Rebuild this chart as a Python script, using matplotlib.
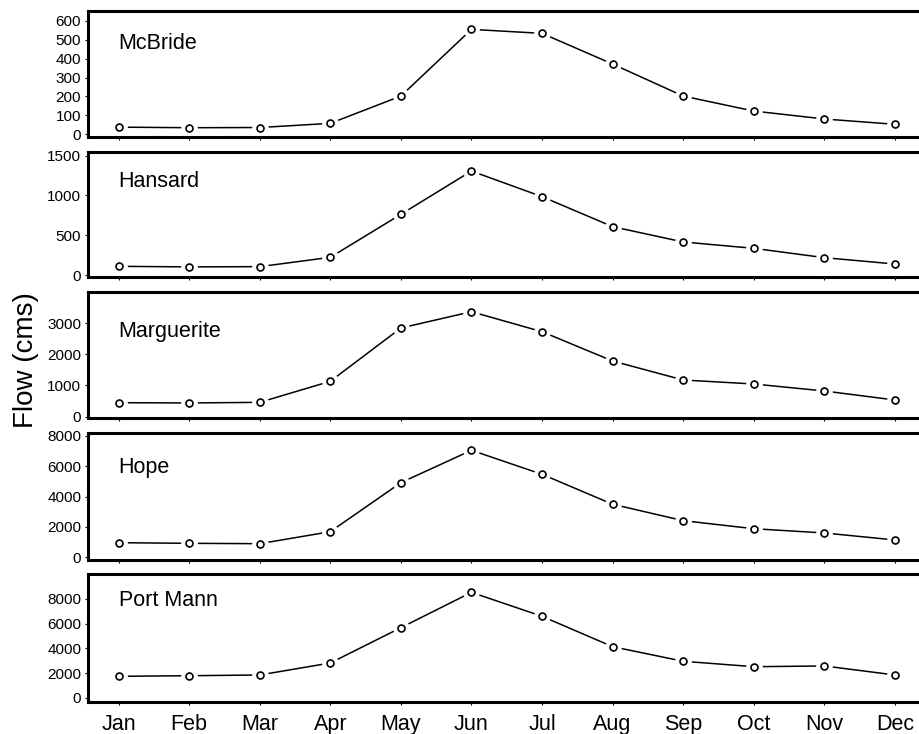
import matplotlib
matplotlib.use("Agg")
import matplotlib.pyplot as plt
import matplotlib.transforms as mtransforms

plt.rcParams['font.family'] = ['Liberation Sans', 'DejaVu Sans']

months = ['Jan', 'Feb', 'Mar', 'Apr', 'May', 'Jun',
          'Jul', 'Aug', 'Sep', 'Oct', 'Nov', 'Dec']
stations = ['McBride', 'Hansard', 'Marguerite', 'Hope', 'Port Mann']

mcbride = [38, 35, 36, 58, 202, 554, 533, 371, 202, 123, 81, 53]
hansard = [109, 102, 105, 222, 762, 1306, 984, 607, 415, 335, 218, 138]
marguerite = [449, 440, 460, 1134, 2843, 3365, 2724, 1785, 1176, 1048, 824, 535]
hope = [960, 920, 895, 1685, 4910, 7040, 5460, 3490, 2410, 1880, 1600, 1140]
port_mann = [1733, 1780, 1840, 2810, 5670, 8530, 6590, 4130, 2950, 2510, 2570, 1840]
flows = [mcbride, hansard, marguerite, hope, port_mann]

yticks = [[0, 100, 200, 300, 400, 500, 600],
          [0, 500, 1000, 1500],
          [0, 1000, 2000, 3000],
          [0, 2000, 4000, 6000, 8000],
          [0, 2000, 4000, 6000, 8000]]
ylims = [(-14, 651), (-25, 1545), (-42, 3997), (-178, 8178), (-348, 10016)]

# panel edges in pixels (top, bottom) and where the station name sits
W, H = 919, 734
panels = [(11, 137), (152, 277), (292, 418), (433, 560), (574, 702)]
name_y = [0.746, 0.762, 0.69, 0.727, 0.79]
left_px, right_px = 87.5, 926

fig = plt.figure(figsize=(W / 100, H / 100), dpi=100)
x = list(range(1, 13))

for i, (top, bot) in enumerate(panels):
    ax = fig.add_axes([left_px / W, 1 - bot / H, (right_px - left_px) / W, (bot - top) / H])
    y = flows[i]
    ax.plot(x, y, color='black', lw=1.1, zorder=2)
    # white halo so the line stops short of each point (R type="b")
    ax.plot(x, y, ls='none', marker='o', ms=11, mfc='white', mec='white', zorder=2.1)
    ax.plot(x, y, ls='none', marker='o', ms=5, mfc='white', mec='black', mew=1.2, zorder=2.2)
    ax.set_xlim(0.56, 12.44)
    ax.set_ylim(*ylims[i])
    ax.set_yticks(yticks[i])
    ax.set_xticks(x)
    if i == len(panels) - 1:
        ax.set_xticklabels(months, fontsize=15.5)
    else:
        ax.set_xticklabels([])
    for s in ax.spines.values():
        s.set_linewidth(2.2)
    ax.tick_params(axis='y', labelsize=11, length=2.5, width=0.8, pad=2)
    ax.tick_params(axis='x', length=2.5, width=0.8, pad=6)
    trans = mtransforms.blended_transform_factory(ax.transData, ax.transAxes)
    ax.text(1, name_y[i], stations[i], transform=trans, fontsize=15.5,
            ha='left', va='center')

fig.text(0.028, 1 - 360 / H, 'Flow (cms)', rotation=90, fontsize=20,
         ha='center', va='center')

fig.savefig('out.png', dpi=100)
